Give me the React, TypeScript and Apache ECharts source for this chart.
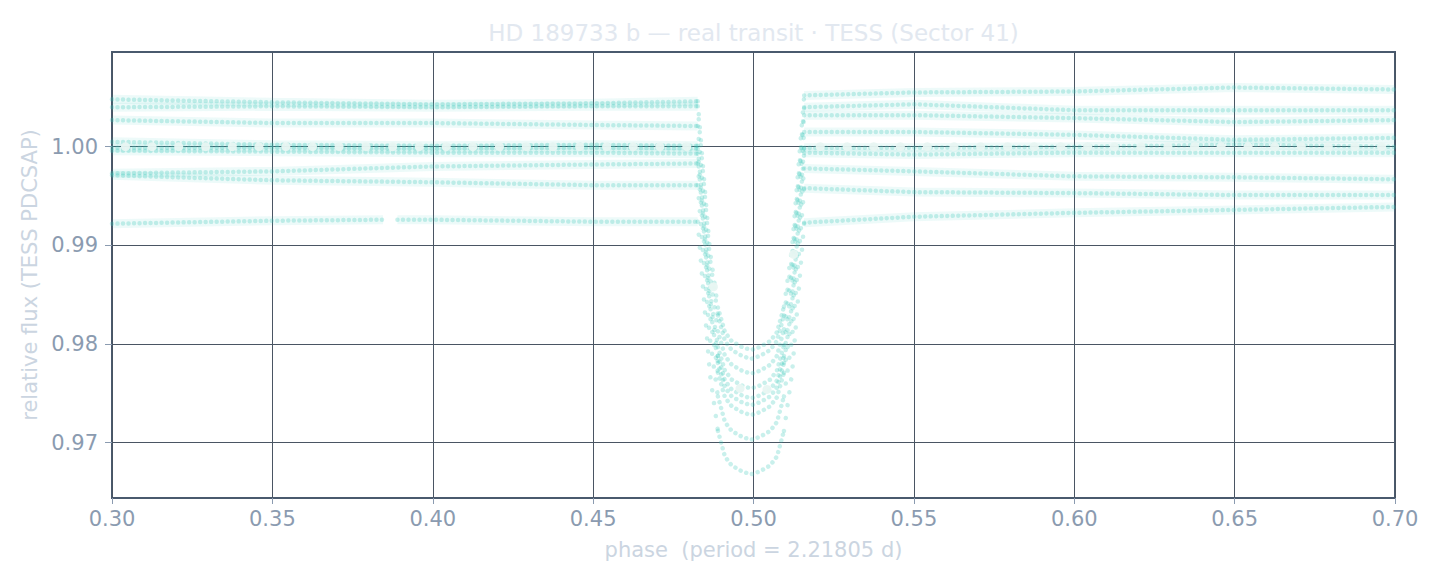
import React, { useEffect, useRef } from "react";
import * as echarts from "echarts";

const TITLE = "HD 189733 b — real transit · TESS (Sector 41)";
const X_NAME = "phase  (period = 2.21805 d)";
const Y_NAME = "relative flux (TESS PDCSAP)";

const yTicks = [0.97, 0.98, 0.99, 1.0];

const orbit1 = [[0.30, 1.0048], [0.35, 1.0045], [0.40, 1.0043], [0.45, 1.0044], [0.4826, 1.0046], [0.4864, 0.9895], [0.4889, 0.9837], [0.4911, 0.9812], [0.4932, 0.9803], [0.4964, 0.9797], [0.4992, 0.9794], [0.5020, 0.9797], [0.5052, 0.9803], [0.5073, 0.9812], [0.5095, 0.9838], [0.5120, 0.9897], [0.5158, 1.0052], [0.55, 1.0055], [0.60, 1.0056], [0.65, 1.0060], [0.70, 1.0058]];
const orbit2 = [[0.30, 1.0040], [0.35, 1.0041], [0.40, 1.0040], [0.45, 1.0041], [0.4826, 1.0041], [0.4864, 0.9887], [0.4889, 0.9829], [0.4911, 0.9803], [0.4932, 0.9794], [0.4964, 0.9788], [0.4992, 0.9785], [0.5020, 0.9788], [0.5052, 0.9794], [0.5073, 0.9803], [0.5095, 0.9829], [0.5120, 0.9887], [0.5158, 1.0040], [0.55, 1.0043], [0.60, 1.0037], [0.65, 1.0037], [0.70, 1.0037]];
const orbit3 = [[0.30, 1.0027], [0.35, 1.0024], [0.40, 1.0024], [0.45, 1.0022], [0.4826, 1.0021], [0.4864, 0.9870], [0.4889, 0.9813], [0.4911, 0.9788], [0.4932, 0.9779], [0.4964, 0.9773], [0.4992, 0.9770], [0.5020, 0.9773], [0.5052, 0.9779], [0.5073, 0.9788], [0.5095, 0.9815], [0.5120, 0.9875], [0.5158, 1.0032], [0.55, 1.0032], [0.60, 1.0029], [0.65, 1.0025], [0.70, 1.0027]];
const orbit4 = [[0.30, 1.0005], [0.35, 1.0002], [0.40, 1.0001], [0.45, 1.0002], [0.4826, 1.0001], [0.4864, 0.9853], [0.4889, 0.9797], [0.4911, 0.9773], [0.4932, 0.9764], [0.4964, 0.9758], [0.4992, 0.9755], [0.5020, 0.9758], [0.5052, 0.9764], [0.5073, 0.9773], [0.5095, 0.9799], [0.5120, 0.9859], [0.5158, 1.0015], [0.55, 1.0015], [0.60, 1.0012], [0.65, 1.0007], [0.70, 1.0009]];
const orbit5 = [[0.30, 0.9999], [0.35, 0.9999], [0.40, 0.9998], [0.45, 0.9999], [0.4826, 0.9998], [0.4864, 0.9847], [0.4889, 0.9788], [0.4911, 0.9763], [0.4932, 0.9754], [0.4964, 0.9748], [0.4992, 0.9745], [0.5020, 0.9748], [0.5052, 0.9754], [0.5073, 0.9763], [0.5095, 0.9788], [0.5120, 0.9847], [0.5158, 0.9999], [0.55, 0.9999], [0.60, 1.0000], [0.65, 1.0002], [0.70, 1.0000]];
const orbit6 = [[0.30, 0.9996], [0.35, 0.9995], [0.40, 0.9994], [0.45, 0.9994], [0.4826, 0.9993], [0.4864, 0.9840], [0.4889, 0.9781], [0.4911, 0.9756], [0.4932, 0.9747], [0.4964, 0.9741], [0.4992, 0.9738], [0.5020, 0.9741], [0.5052, 0.9747], [0.5073, 0.9756], [0.5095, 0.9781], [0.5120, 0.9840], [0.5158, 0.9994], [0.55, 0.9992], [0.60, 0.9994], [0.65, 0.9994], [0.70, 0.9994]];
const orbit7 = [[0.30, 0.9973], [0.35, 0.9975], [0.40, 0.9980], [0.45, 0.9982], [0.4826, 0.9983], [0.4864, 0.9830], [0.4889, 0.9771], [0.4911, 0.9746], [0.4932, 0.9737], [0.4964, 0.9731], [0.4992, 0.9728], [0.5020, 0.9731], [0.5052, 0.9737], [0.5073, 0.9746], [0.5095, 0.9771], [0.5120, 0.9828], [0.5158, 0.9978], [0.55, 0.9975], [0.60, 0.9970], [0.65, 0.9969], [0.70, 0.9967]];
const orbit8 = [[0.30, 0.9971], [0.35, 0.9966], [0.40, 0.9964], [0.45, 0.9961], [0.4826, 0.9961], [0.4864, 0.9806], [0.4889, 0.9747], [0.4911, 0.9721], [0.4932, 0.9712], [0.4964, 0.9706], [0.4992, 0.9703], [0.5020, 0.9706], [0.5052, 0.9712], [0.5073, 0.9721], [0.5095, 0.9747], [0.5120, 0.9805], [0.5158, 0.9958], [0.55, 0.9954], [0.60, 0.9953], [0.65, 0.9951], [0.70, 0.9951]];
const orbit9 = [[0.30, 0.9922], [0.35, 0.9925], [0.3845, 0.9926], [0.3868, "-"], [0.3890, 0.9926], [0.40, 0.9926], [0.45, 0.9924], [0.4826, 0.9924], [0.4864, 0.9770], [0.4889, 0.9712], [0.4911, 0.9686], [0.4932, 0.9677], [0.4964, 0.9671], [0.4992, 0.9668], [0.5020, 0.9671], [0.5052, 0.9677], [0.5073, 0.9686], [0.5095, 0.9712], [0.5120, 0.9770], [0.5158, 0.9923], [0.55, 0.9929], [0.60, 0.9933], [0.65, 0.9936], [0.70, 0.9939]];

const orbits = [orbit1, orbit2, orbit3, orbit4, orbit5, orbit6, orbit7, orbit8, orbit9];

// phase boundaries: out-of-transit | ingress wall | transit floor | egress wall | out-of-transit
const phaseBreaks = [0.3, 0.4826, 0.4889, 0.5095, 0.5158, 0.7];

// binned flux (light circles)
const binPhase = [0.3042, 0.3125, 0.3208, 0.3292, 0.3375, 0.3458, 0.3542, 0.3625, 0.3708, 0.3792, 0.3875, 0.3958, 0.4042, 0.4125, 0.4208, 0.4292, 0.4375, 0.4458, 0.4542, 0.4625, 0.4708, 0.4792, 0.4875, 0.4958, 0.5042, 0.5125, 0.5208, 0.5292, 0.5375, 0.5458, 0.5542, 0.5625, 0.5708, 0.5792, 0.5875, 0.5958, 0.6042, 0.6125, 0.6208, 0.6292, 0.6375, 0.6458, 0.6542, 0.6625, 0.6708, 0.6792, 0.6875, 0.6958];
const binFlux = [1.0, 1.0, 1.0, 1.0, 1.0, 1.0, 1.0, 1.0, 1.0, 1.0, 1.0, 1.0, 1.0, 1.0, 1.0, 1.0, 1.0, 1.0, 1.0, 1.0, 1.0, 1.0, 0.9858, 0.9755, 0.9754, 0.9891, 1.0, 1.0, 1.0, 1.0, 1.0, 1.0, 1.0, 1.0, 1.0, 1.0, 1.0, 1.0, 1.0, 1.0, 1.0, 1.0, 1.0, 1.0, 1.0, 1.0, 1.0, 1.0];

const FONT = "DejaVu Sans";
const TEAL = "#38c9b8";

// dot spacing per segment kind (steep walls are sparse, like the real 2-min cadence)
const segStyle = [
  { gap: 5.5, under: true },
  { gap: 13, under: false },
  { gap: 6, under: false },
  { gap: 13, under: false },
  { gap: 5.5, under: true },
];

export default function App() {
  const ref = useRef<HTMLDivElement>(null);
  useEffect(() => {
    if (!ref.current) return;
    const chart = echarts.init(ref.current, undefined, { renderer: "svg" });
    const series: any[] = [];
    orbits.forEach((d, i) => {
      for (let s = 0; s < phaseBreaks.length - 1; s++) {
        const lo = phaseBreaks[s];
        const hi = phaseBreaks[s + 1];
        const seg = d.filter((p) => (p[0] as number) >= lo - 1e-9 && (p[0] as number) <= hi + 1e-9);
        const st = segStyle[s];
        if (st.under) {
          series.push({
            name: "band" + i + "_" + s,
            type: "line",
            data: seg,
            symbol: "none",
            clip: true,
            z: 1,
            lineStyle: { color: TEAL, opacity: 0.09, width: 9 },
          });
        }
        series.push({
          name: "dots" + i + "_" + s,
          type: "line",
          data: seg,
          symbol: "none",
          clip: true,
          z: 2,
          lineStyle: { color: TEAL, opacity: 0.27, width: 4.5, type: [0.01, st.gap], cap: "round" },
        });
      }
    });
    series.push({
      name: "binned",
      type: "scatter",
      data: binPhase.map((p, i) => [p, binFlux[i]]),
      symbol: "circle",
      symbolSize: 9,
      z: 5,
      itemStyle: { color: "#e8f5f2", opacity: 0.95 },
    });
    chart.setOption({
      animation: false,
      backgroundColor: "#ffffff",
      grid: {
        left: 112,
        right: 45,
        top: 52,
        bottom: 87,
        show: true,
        borderColor: "#4a5a6e",
        borderWidth: 2,
        containLabel: false,
        outerBoundsMode: "none",
      },
      graphic: [
        {
          type: "text",
          x: 753.5,
          y: 33,
          style: {
            text: TITLE,
            fill: "#e2e8f0",
            fontSize: 23,
            fontFamily: FONT,
            textAlign: "center",
            textVerticalAlign: "middle",
          },
        },
      ],
      xAxis: {
        type: "value",
        min: 0.3,
        max: 0.7,
        interval: 0.05,
        name: X_NAME,
        nameLocation: "middle",
        nameGap: 41,
        nameTextStyle: { color: "#cbd5e1", fontSize: 21, fontFamily: FONT },
        axisLine: { show: false },
        axisTick: { show: true, length: 6, lineStyle: { color: "#8b9bb0" } },
        axisLabel: {
          color: "#8b9bb0",
          fontSize: 21,
          fontFamily: FONT,
          margin: 10,
          formatter: (v: number) => v.toFixed(2),
        },
        splitLine: { show: true, lineStyle: { color: "#4a5563", width: 1 } },
      },
      yAxis: {
        type: "value",
        min: 0.9644,
        max: 1.0096,
        name: Y_NAME,
        nameLocation: "middle",
        nameGap: 67,
        nameTextStyle: { color: "#cbd5e1", fontSize: 21, fontFamily: FONT },
        axisLine: { show: false },
        axisTick: { show: true, length: 7, customValues: yTicks, lineStyle: { color: "#8b9bb0" } },
        axisLabel: {
          color: "#8b9bb0",
          fontSize: 21,
          fontFamily: FONT,
          margin: 14,
          customValues: yTicks,
          formatter: (v: number) => v.toFixed(2),
        },
        splitLine: { show: true, lineStyle: { color: "#4a5563", width: 1 } },
      },
      series,
    });
    return () => chart.dispose();
  }, []);
  return (
    <div
      ref={ref}
      style={{ position: "fixed", left: 0, top: 0, width: 1440, height: 585 }}
    />
  );
}
